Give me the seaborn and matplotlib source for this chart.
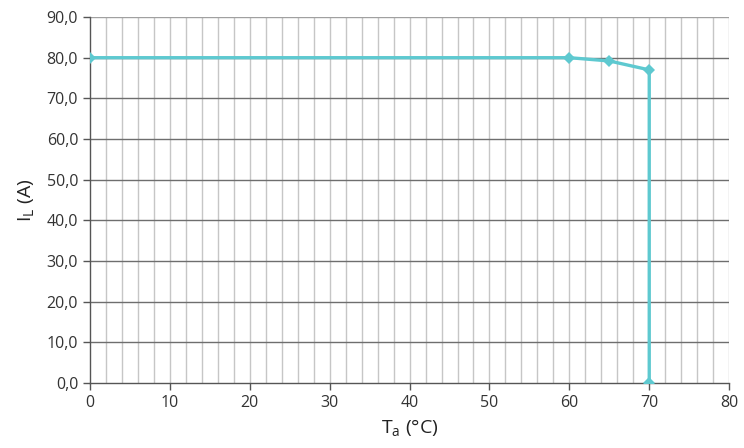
import numpy as np
import pandas as pd
import matplotlib.pyplot as plt
import matplotlib.ticker as mticker
import seaborn as sns

# datos de la curva de derating
temp_c = [0, 60, 65, 70, 70]
corriente_a = [80.0, 80.0, 79.2, 77.0, 0.0]

y_ticks = [0, 10, 20, 30, 40, 50, 60, 70, 80, 90]
x_ticks = [0, 10, 20, 30, 40, 50, 60, 70, 80]

df = pd.DataFrame({"Ta": temp_c, "IL": corriente_a})

sns.set_theme(style="white")
plt.rcParams["font.family"] = ["Open Sans", "DejaVu Sans"]

fig = plt.figure(figsize=(7.44, 4.48), dpi=100)
ax = fig.add_axes([0.121, 0.145, 0.859, 0.817])

# rejilla: verticales cada 2, horizontales cada 10
for xv in np.arange(2, 81, 2):
    ax.axvline(xv, color="#c6c6c6", lw=1.0, zorder=0)
for yv in y_ticks[1:]:
    ax.axhline(yv, color="#6e6e6e" if yv < 90 else "#a0a0a0", lw=1.0, zorder=0)

sns.lineplot(data=df, x="Ta", y="IL", sort=False, estimator=None, ax=ax,
             color="#5ec9d0", lw=2.4, marker="D", markersize=6,
             markeredgewidth=0, zorder=3)

ax.set_xlim(0, 80)
ax.set_ylim(0, 90)
ax.set_xticks(x_ticks)
ax.set_yticks(y_ticks)
ax.yaxis.set_major_formatter(mticker.FuncFormatter(lambda v, p: f"{v:.1f}".replace(".", ",")))
ax.tick_params(axis="both", which="major", length=5, width=1, color="#555555",
               labelsize=11.5, labelcolor="#333333", direction="out", bottom=True, left=True)

for s in ["top", "right"]:
    ax.spines[s].set_visible(False)
for s in ["left", "bottom"]:
    ax.spines[s].set_color("#555555")
    ax.spines[s].set_linewidth(1.0)

ax.set_xlabel(r"T$_\mathregular{a}$ (°C)", fontsize=14, color="#222222", labelpad=5)
ax.set_ylabel(r"I$_\mathregular{L}$ (A)", fontsize=14, color="#222222", labelpad=7)

fig.savefig("out.png", dpi=100)
